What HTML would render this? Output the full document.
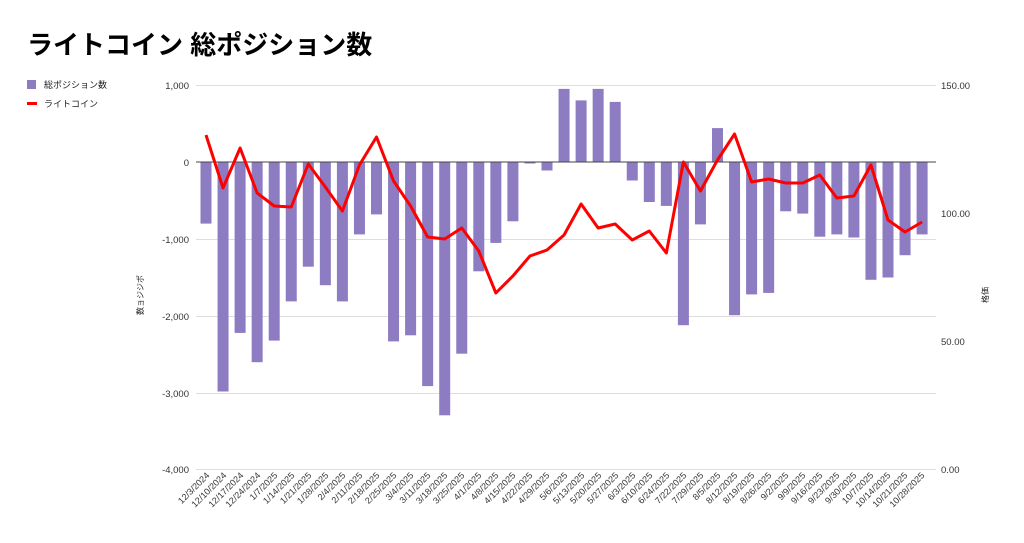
<!DOCTYPE html>
<html><head><meta charset="utf-8"><style>
body{margin:0;background:#fff;width:1024px;height:543px;overflow:hidden}
svg{display:block;font-family:"Liberation Sans","Noto Sans CJK JP",sans-serif}
</style></head><body>
<svg width="1024" height="543" viewBox="0 0 1024 543">
<text x="27" y="54" font-size="26" font-weight="bold" fill="#000">ライトコイン 総ポジション数</text>
<rect x="27" y="80" width="9" height="9" fill="#8e7cc3"/>
<text x="44" y="88" font-size="9" fill="#222">総ポジション数</text>
<rect x="27" y="102" width="10" height="3" fill="#f00"/>
<text x="44" y="107" font-size="9" fill="#222">ライトコイン</text>
<g stroke="#ddd" stroke-width="1">
<line x1="196" x2="936" y1="85.5" y2="85.5"/><line x1="196" x2="936" y1="239.5" y2="239.5"/>
<line x1="196" x2="936" y1="316.5" y2="316.5"/><line x1="196" x2="936" y1="393.5" y2="393.5"/>
<line x1="196" x2="936" y1="469.5" y2="469.5"/>
</g>
<g font-size="9.5" fill="#333" text-anchor="end">
<text x="189" y="89">1,000</text><text x="189" y="166">0</text><text x="189" y="243">-1,000</text>
<text x="189" y="320">-2,000</text><text x="189" y="397">-3,000</text><text x="189" y="473">-4,000</text>
</g>
<g font-size="9.5" fill="#333">
<text x="941" y="89">150.00</text><text x="941" y="217">100.00</text><text x="941" y="345">50.00</text><text x="941" y="473">0.00</text>
</g>
<text transform="translate(143,295) rotate(-90)" font-size="8" text-anchor="middle" fill="#222">数ョジジポ</text>
<text transform="translate(988,295) rotate(-90)" font-size="8" text-anchor="middle" fill="#222">格価</text>
<g fill="#8e7cc3">
<rect x="200.5" y="162" width="11" height="61.6"/>
<rect x="217.55" y="162" width="11" height="229.5"/>
<rect x="234.6" y="162" width="11" height="170.9"/>
<rect x="251.65" y="162" width="11" height="200.2"/>
<rect x="268.7" y="162" width="11" height="178.6"/>
<rect x="285.75" y="162" width="11" height="139.4"/>
<rect x="302.8" y="162" width="11" height="104.7"/>
<rect x="319.85" y="162" width="11" height="123.2"/>
<rect x="336.9" y="162" width="11" height="139.4"/>
<rect x="353.95" y="162" width="11" height="72.4"/>
<rect x="371" y="162" width="11" height="52.4"/>
<rect x="388.05" y="162" width="11" height="179.4"/>
<rect x="405.1" y="162" width="11" height="173.3"/>
<rect x="422.15" y="162" width="11" height="224.1"/>
<rect x="439.2" y="162" width="11" height="253.3"/>
<rect x="456.25" y="162" width="11" height="191.7"/>
<rect x="473.3" y="162" width="11" height="109.3"/>
<rect x="490.35" y="162" width="11" height="80.9"/>
<rect x="507.4" y="162" width="11" height="59.3"/>
<rect x="524.45" y="162" width="11" height="1.5"/>
<rect x="541.5" y="162" width="11" height="8.5"/>
<rect x="558.55" y="88.9" width="11" height="73.1"/>
<rect x="575.6" y="100.4" width="11" height="61.6"/>
<rect x="592.65" y="88.9" width="11" height="73.1"/>
<rect x="609.7" y="101.9" width="11" height="60.1"/>
<rect x="626.75" y="162" width="11" height="18.5"/>
<rect x="643.8" y="162" width="11" height="40"/>
<rect x="660.85" y="162" width="11" height="43.9"/>
<rect x="677.9" y="162" width="11" height="163.2"/>
<rect x="694.95" y="162" width="11" height="62.4"/>
<rect x="712" y="128.1" width="11" height="33.9"/>
<rect x="729.05" y="162" width="11" height="153.2"/>
<rect x="746.1" y="162" width="11" height="132.4"/>
<rect x="763.15" y="162" width="11" height="130.9"/>
<rect x="780.2" y="162" width="11" height="49.3"/>
<rect x="797.25" y="162" width="11" height="51.6"/>
<rect x="814.3" y="162" width="11" height="74.7"/>
<rect x="831.35" y="162" width="11" height="72.4"/>
<rect x="848.4" y="162" width="11" height="75.5"/>
<rect x="865.45" y="162" width="11" height="117.8"/>
<rect x="882.5" y="162" width="11" height="115.5"/>
<rect x="899.55" y="162" width="11" height="93.2"/>
<rect x="916.6" y="162" width="11" height="72.4"/>
</g>
<line x1="196" x2="936" y1="162" y2="162" stroke="#444" stroke-width="1"/>
<polyline fill="none" stroke="#f00" stroke-width="3" stroke-linejoin="round" points="206,135 223.05,188 240.1,148 257.15,193 274.2,206 291.25,207 308.3,164 325.35,187 342.4,211 359.45,165 376.5,137 393.55,181 410.6,206 427.65,237 444.7,239 461.75,228 478.8,251 495.85,293 512.9,276 529.95,256 547,250 564.05,235 581.1,204 598.15,228 615.2,224 632.25,240 649.3,231 666.35,253 683.4,162 700.45,191 717.5,160 734.55,134 751.6,182 768.65,179 785.7,183 802.75,183 819.8,175 836.85,198 853.9,196 870.95,165 888,220 905.05,232 922.1,222"/>
<g font-size="9" fill="#333" text-anchor="end">
<text transform="translate(210,476) rotate(-45)">12/3/2024</text>
<text transform="translate(227,476) rotate(-45)">12/10/2024</text>
<text transform="translate(244,476) rotate(-45)">12/17/2024</text>
<text transform="translate(261,476) rotate(-45)">12/24/2024</text>
<text transform="translate(278,476) rotate(-45)">1/7/2025</text>
<text transform="translate(295,476) rotate(-45)">1/14/2025</text>
<text transform="translate(312,476) rotate(-45)">1/21/2025</text>
<text transform="translate(329,476) rotate(-45)">1/28/2025</text>
<text transform="translate(346,476) rotate(-45)">2/4/2025</text>
<text transform="translate(363,476) rotate(-45)">2/11/2025</text>
<text transform="translate(380,476) rotate(-45)">2/18/2025</text>
<text transform="translate(397,476) rotate(-45)">2/25/2025</text>
<text transform="translate(414,476) rotate(-45)">3/4/2025</text>
<text transform="translate(431,476) rotate(-45)">3/11/2025</text>
<text transform="translate(448,476) rotate(-45)">3/18/2025</text>
<text transform="translate(465,476) rotate(-45)">3/25/2025</text>
<text transform="translate(482,476) rotate(-45)">4/1/2025</text>
<text transform="translate(499,476) rotate(-45)">4/8/2025</text>
<text transform="translate(516,476) rotate(-45)">4/15/2025</text>
<text transform="translate(533,476) rotate(-45)">4/22/2025</text>
<text transform="translate(550,476) rotate(-45)">4/29/2025</text>
<text transform="translate(568,476) rotate(-45)">5/6/2025</text>
<text transform="translate(585,476) rotate(-45)">5/13/2025</text>
<text transform="translate(602,476) rotate(-45)">5/20/2025</text>
<text transform="translate(619,476) rotate(-45)">5/27/2025</text>
<text transform="translate(636,476) rotate(-45)">6/3/2025</text>
<text transform="translate(653,476) rotate(-45)">6/10/2025</text>
<text transform="translate(670,476) rotate(-45)">6/24/2025</text>
<text transform="translate(687,476) rotate(-45)">7/22/2025</text>
<text transform="translate(704,476) rotate(-45)">7/29/2025</text>
<text transform="translate(721,476) rotate(-45)">8/5/2025</text>
<text transform="translate(738,476) rotate(-45)">8/12/2025</text>
<text transform="translate(755,476) rotate(-45)">8/19/2025</text>
<text transform="translate(772,476) rotate(-45)">8/26/2025</text>
<text transform="translate(789,476) rotate(-45)">9/2/2025</text>
<text transform="translate(806,476) rotate(-45)">9/9/2025</text>
<text transform="translate(823,476) rotate(-45)">9/16/2025</text>
<text transform="translate(840,476) rotate(-45)">9/23/2025</text>
<text transform="translate(857,476) rotate(-45)">9/30/2025</text>
<text transform="translate(874,476) rotate(-45)">10/7/2025</text>
<text transform="translate(891,476) rotate(-45)">10/14/2025</text>
<text transform="translate(908,476) rotate(-45)">10/21/2025</text>
<text transform="translate(925,476) rotate(-45)">10/28/2025</text>
</g>
</svg>
</body></html>
